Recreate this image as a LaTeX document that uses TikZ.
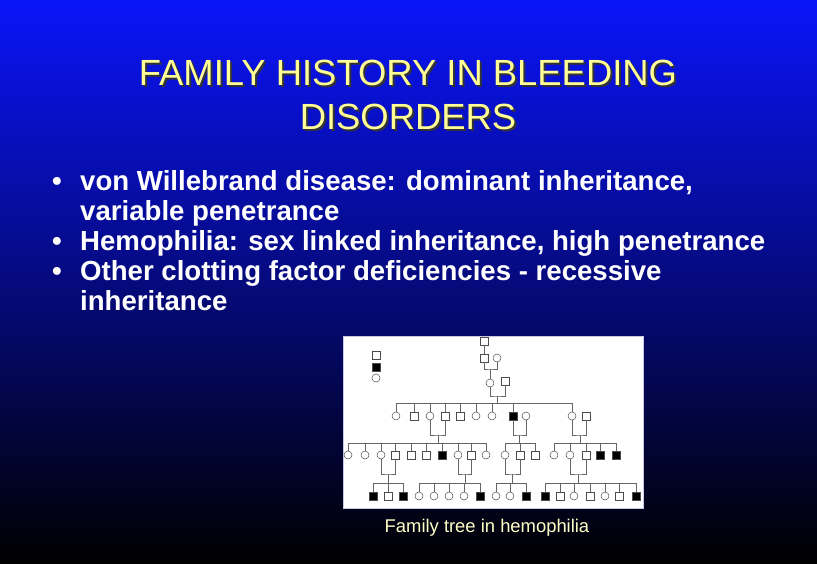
\documentclass[tikz,border=0pt]{standalone}
\usepackage{fontspec}
\setmainfont{Liberation Sans}
\begin{document}
\begin{tikzpicture}[x=1pt,y=-1pt,
  sq/.style={draw=black!70,fill=white,minimum size=7.5pt,inner sep=0pt,line width=0.5pt},
  sqf/.style={sq,fill=black},
  ci/.style={sq,circle,minimum size=8pt},
  ln/.style={draw=black!60,line width=0.5pt},
  ttl/.style={font=\fontsize{36.4}{44}\selectfont,align=center,inner sep=0pt},
  bul/.style={anchor=base west,text=white,font=\bfseries\fontsize{27.6}{30}\selectfont,inner sep=0pt}]
\useasboundingbox (0,0) rectangle (817,563);
\shade[top color={rgb,255:red,10;green,20;blue,250},middle color={rgb,255:red,5;green,15;blue,150},bottom color=black] (0,0) rectangle (817,563);
% title
\node[ttl,text=black!80] (tsh) at (410,97) {FAMILY HISTORY IN BLEEDING\\DISORDERS};
\node[ttl,text={rgb,255:red,255;green,255;blue,150}] (title) at (408,95) {FAMILY HISTORY IN BLEEDING\\DISORDERS};
% bullets
\node[bul] (b1d) at (52,190) {•};
\node[bul] (b1) at (80,190) {von Willebrand disease: dominant inheritance,};
\node[bul] (b1b) at (80,220) {variable penetrance};
\node[bul] (b2d) at (52,250) {•};
\node[bul] (b2) at (80,250) {Hemophilia: sex linked inheritance, high penetrance};
\node[bul] (b3d) at (52,280) {•};
\node[bul] (b3) at (80,280) {Other clotting factor deficiencies - recessive};
\node[bul] (b3b) at (80,310) {inheritance};
% picture frame
\draw[fill=white,draw={rgb,255:red,200;green,200;blue,230}] (343,336) rectangle (643,508);
% legend
\node[sq] (l1) at (376,355) {};
\node[sqf] (l2) at (376,367) {};
\node[ci] (l3) at (376,378) {};
% generations
\node[sq] (g1) at (484,341) {};
\node[sq] (g2a) at (484,358) {};
\node[ci] (g2b) at (497,358) {};
\node[ci] (g3a) at (490,383) {};
\node[sq] (g3b) at (505,381) {};
\foreach \n/\x/\s in {a/396/ci,b/414/sq,c/430/ci,d/445/sq,e/460/sq,f/476/ci,g/492/ci,h/513/sqf,i/526/ci,j/572/ci,k/586/sq}
  \node[\s] (g4\n) at (\x,416) {};
\foreach \n/\x/\s in {a/348/ci,b/365/ci,c/381/ci,d/395/sq,e/411/sq,f/426/sq,g/442/sqf,h/458/ci,i/471/sq,j/486/ci,
  k/505/ci,l/520/sq,m/535/sq,n/554/ci,o/570/ci,p/586/sq,q/600/sqf,r/616/sqf}
  \node[\s] (g5\n) at (\x,455) {};
\foreach \n/\x/\s in {a/373/sqf,b/388/sq,c/403/sqf,d/419/ci,e/434/ci,f/449/ci,g/464/ci,h/480/sqf,i/496/ci,j/510/ci,k/526/sqf,
  l/545/sqf,m/560/sq,n/574/ci,o/590/sq,p/605/ci,q/619/sq,r/636/sqf}
  \node[\s] (g6\n) at (\x,496) {};
% connectors
\draw[ln] (g1) -- (g2a);
\draw[ln] (g2a.south) |- (490,369) -| (g2b.south);
\draw[ln] (490,369) -- (g3a);
\draw[ln] (g3a.south) |- (497,396) -| (g3b.south);
\draw[ln] (497,396) -- (497,403);
\draw[ln] (g4a.north|-0,403) -- (g4j.north|-0,403);
\foreach \c in {a,b,c,d,e,f,g,h,j} \draw[ln] (g4\c.north) -- (g4\c.north|-0,403);
% gen4 families
\draw[ln] (g4c.south) |- (438,435) -| (g4d.south);
\draw[ln] (438,435) -- (438,443);
\draw[ln] (g5a.north|-0,443) -- (g5j.north|-0,443);
\foreach \c in {a,b,c,d,e,f,g,h,i,j} \draw[ln] (g5\c.north) -- (g5\c.north|-0,443);
\draw[ln] (g4h.south) |- (519,435) -| (g4i.south);
\draw[ln] (519,435) -- (519,443);
\draw[ln] (g5k.north|-0,443) -- (g5m.north|-0,443);
\foreach \c in {k,l,m} \draw[ln] (g5\c.north) -- (g5\c.north|-0,443);
\draw[ln] (g4j.south) |- (580,435) -| (g4k.south);
\draw[ln] (580,435) -- (580,443);
\draw[ln] (g5n.north|-0,443) -- (g5r.north|-0,443);
\foreach \c in {n,o,p,q,r} \draw[ln] (g5\c.north) -- (g5\c.north|-0,443);
% gen5 families
\draw[ln] (g5c.south) |- (388,474) -| (g5d.south);
\draw[ln] (388,474) -- (388,483);
\draw[ln] (g6a.north|-0,483) -- (g6c.north|-0,483);
\foreach \c in {a,b,c} \draw[ln] (g6\c.north) -- (g6\c.north|-0,483);
\draw[ln] (g5h.south) |- (465,474) -| (g5i.south);
\draw[ln] (465,474) -- (465,483);
\draw[ln] (g6d.north|-0,483) -- (g6h.north|-0,483);
\foreach \c in {d,e,f,g,h} \draw[ln] (g6\c.north) -- (g6\c.north|-0,483);
\draw[ln] (g5k.south) |- (512,474) -| (g5l.south);
\draw[ln] (512,474) -- (512,483);
\draw[ln] (g6i.north|-0,483) -- (g6k.north|-0,483);
\foreach \c in {i,j,k} \draw[ln] (g6\c.north) -- (g6\c.north|-0,483);
\draw[ln] (g5o.south) |- (578,474) -| (g5p.south);
\draw[ln] (578,474) -- (578,483);
\draw[ln] (g6l.north|-0,483) -- (g6r.north|-0,483);
\foreach \c in {l,m,n,o,p,q,r} \draw[ln] (g6\c.north) -- (g6\c.north|-0,483);
% caption
\node[text={rgb,255:red,255;green,255;blue,200},font=\fontsize{18.4}{20}\selectfont] (cap) at (487,528) {Family tree in hemophilia};
\end{tikzpicture}
\end{document}
